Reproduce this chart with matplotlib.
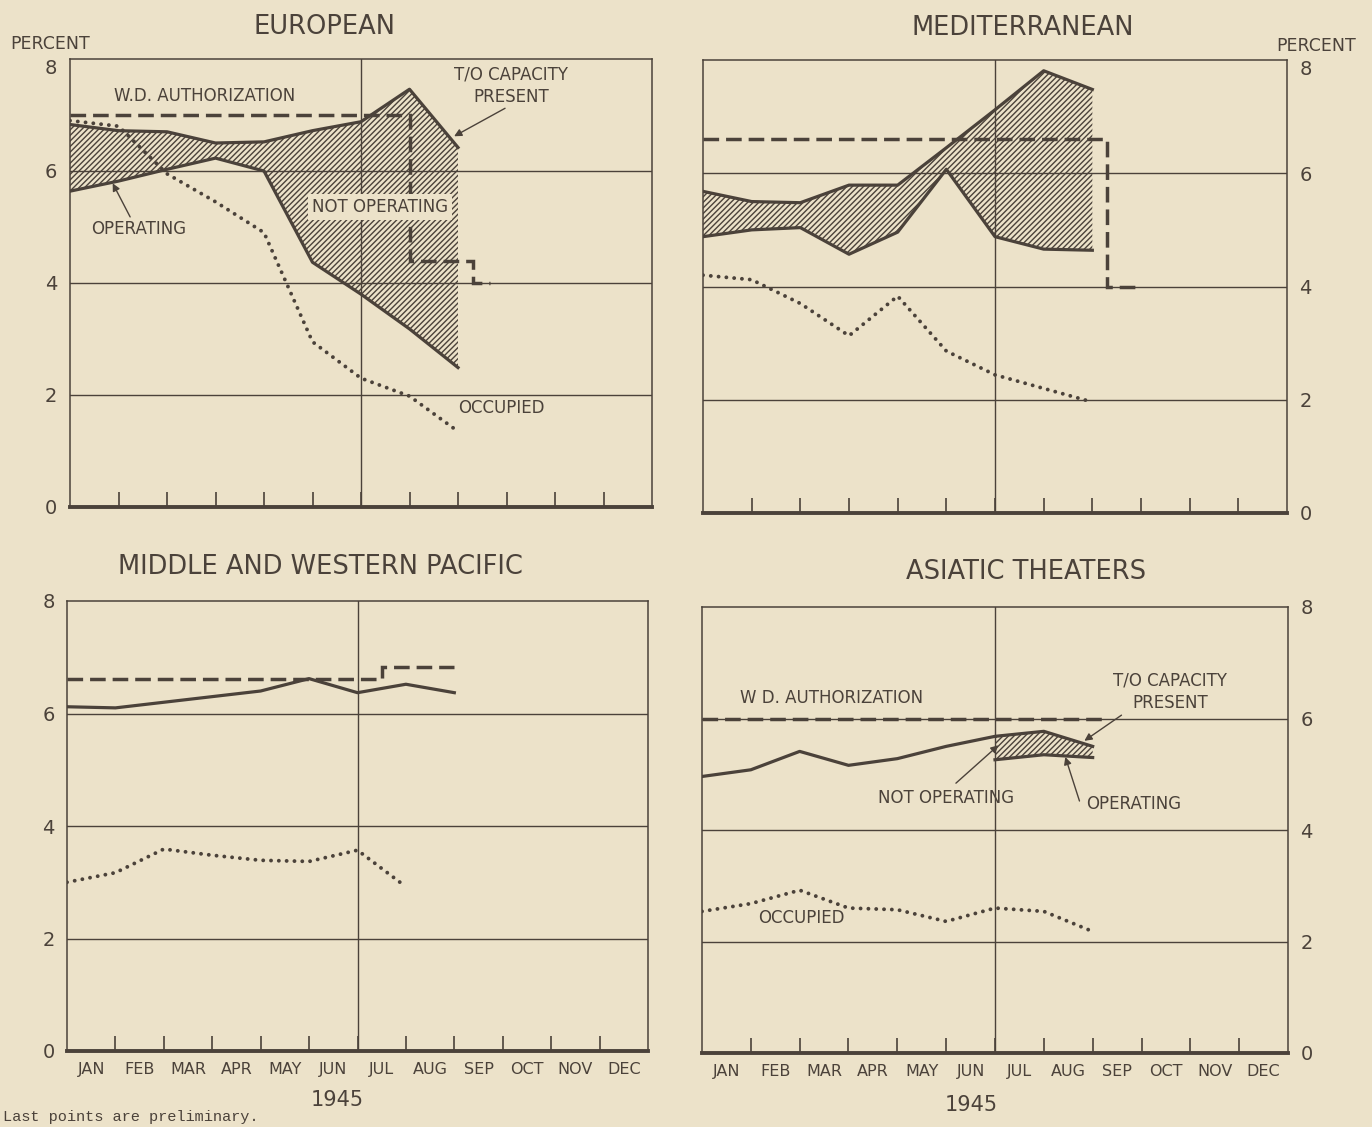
import matplotlib
matplotlib.use("Agg")
import matplotlib.pyplot as plt
import numpy as np

# ---------------------------------------------------------------- data
months = ["JAN", "FEB", "MAR", "APR", "MAY", "JUN",
          "JUL", "AUG", "SEP", "OCT", "NOV", "DEC"]
year_label = "1945"

# European theater (percent of strength)
eur_capacity = [6.83, 6.72, 6.70, 6.50, 6.52, 6.72, 6.88, 7.46, 6.42]
eur_operating = [5.64, 5.82, 6.03, 6.23, 6.00, 4.37, 3.80, 3.18, 2.49]
eur_occupied = [6.90, 6.80, 5.95, 5.45, 4.90, 2.95, 2.30, 1.98, 1.35]
eur_auth_edges = [0, 7.0, 8.3, 8.65]
eur_auth_levels = [7.0, 4.4, 4.0]

# Mediterranean theater
med_capacity = [5.68, 5.50, 5.48, 5.79, 5.79, 6.45, 7.12, 7.81, 7.48]
med_operating = [4.88, 5.00, 5.04, 4.57, 4.96, 6.07, 4.88, 4.66, 4.64]
med_occupied = [4.20, 4.12, 3.70, 3.13, 3.83, 2.86, 2.44, 2.20, 1.96]
med_auth_edges = [0, 8.3, 8.95]
med_auth_levels = [6.6, 4.0]

# Middle and Western Pacific
pac_capacity = [6.12, 6.10, 6.20, 6.30, 6.40, 6.62, 6.37, 6.52, 6.37]
pac_occupied = [3.00, 3.17, 3.59, 3.48, 3.39, 3.37, 3.57, 2.92]
pac_auth_edges = [0, 6.5, 8.0]
pac_auth_levels = [6.62, 6.82]

# Asiatic theaters
asi_capacity = [4.96, 5.08, 5.41, 5.16, 5.28, 5.50, 5.68, 5.77, 5.50]
asi_split_start = 6          # operating / not operating reported from July
asi_operating = [5.26, 5.35, 5.30]
asi_occupied = [2.54, 2.68, 2.92, 2.60, 2.57, 2.36, 2.60, 2.54, 2.18]
asi_auth_edges = [0, 8.3]
asi_auth_levels = [6.0]

y_ticks = [0, 2, 4, 6, 8]
footnote = "Last points are preliminary."

# ---------------------------------------------------------------- style
W, H = 1372, 1127
BG = "#ece2c9"
INK = "#4b423a"
FONT = "DejaVu Sans"

plt.rcParams["font.family"] = FONT
plt.rcParams["hatch.linewidth"] = 1.0
plt.rcParams["hatch.color"] = INK

fig = plt.figure(figsize=(W / 100, H / 100), dpi=100)
fig.patch.set_facecolor(BG)


def px_axes(left, top, right, bottom):
    return fig.add_axes([left / W, 1 - bottom / H, (right - left) / W, (bottom - top) / H])


def fig_text(x, y, s, **kw):
    kw.setdefault("color", INK)
    kw.setdefault("ha", "center")
    kw.setdefault("va", "center")
    fig.text(x / W, 1 - y / H, s, **kw)


def style_panel(ax, side, show_months, drop_top_label=False):
    ax.set_xlim(0, 12)
    ax.set_ylim(0, 8)
    ax.set_facecolor("none")
    for name, sp in ax.spines.items():
        sp.set_color(INK)
        sp.set_linewidth(1.1)
    ax.spines["bottom"].set_linewidth(2.8)
    ax.set_yticks(y_ticks)
    ax.set_yticklabels([str(v) for v in y_ticks])
    if side == "right":
        ax.yaxis.tick_right()
    ax.tick_params(axis="y", length=0, pad=9, labelsize=14, colors=INK)
    if drop_top_label:
        # top value label sits just under the frame, clear of "PERCENT"
        top_tick = ax.yaxis.get_major_ticks()[-1]
        top_tick.label1.set_verticalalignment("top")
        top_tick.label2.set_verticalalignment("top")
    for v in y_ticks[1:-1]:
        ax.axhline(v, color=INK, lw=1.0, zorder=1)
    ax.axvline(6, color=INK, lw=1.0, zorder=1)
    ax.set_xticks(np.arange(1, 12))
    ax.set_xticklabels([])
    ax.tick_params(axis="x", which="major", direction="in", length=11,
                   width=1.2, color=INK)
    ax.set_xticks(np.arange(12) + 0.5, minor=True)
    ax.set_xticklabels(months if show_months else [], minor=True)
    ax.tick_params(axis="x", which="minor", length=0, pad=8,
                   labelsize=11.5, labelcolor=INK)


def draw_capacity(ax, values):
    x = np.arange(len(values))
    ax.plot(x, values, color=INK, lw=2.3, solid_joinstyle="round", zorder=4)


def draw_band(ax, capacity, operating, start=0):
    x = np.arange(start, start + len(operating))
    top = capacity[start:start + len(operating)]
    ax.fill_between(x, top, operating, facecolor="none", edgecolor=INK,
                    hatch="//////", linewidth=0, zorder=3)
    ax.plot(x, operating, color=INK, lw=2.3, solid_joinstyle="round", zorder=4)


def draw_occupied(ax, values):
    x = np.arange(len(values))
    ax.plot(x, values, color=INK, lw=2.8, linestyle=(0, (0.01, 2.0)),
            dash_capstyle="round", zorder=5)


def draw_authorization(ax, edges, levels):
    ax.stairs(levels, edges, baseline=None, color=INK, lw=2.5,
              linestyle=(0, (4.5, 2.0)), zorder=5)


def pointer(ax, text_xy, target_xy):
    ax.annotate("", xy=target_xy, xytext=text_xy,
                arrowprops=dict(arrowstyle="-|>", color=INK, lw=1.0,
                                mutation_scale=11, shrinkA=0, shrinkB=0),
                zorder=6)


label_kw = dict(color=INK, fontsize=12, ha="center", va="center", zorder=7)

# ---------------------------------------------------------------- European
ax = px_axes(70, 59, 652, 507)
style_panel(ax, "left", False, drop_top_label=True)
draw_band(ax, eur_capacity, eur_operating)
draw_capacity(ax, eur_capacity)
draw_occupied(ax, eur_occupied)
draw_authorization(ax, eur_auth_edges, eur_auth_levels)
ax.text(2.78, 7.34, "W.D. AUTHORIZATION", **label_kw)
ax.text(9.1, 7.52, "T/O CAPACITY\nPRESENT", linespacing=1.3, **label_kw)
pointer(ax, (8.97, 7.12), (7.92, 6.62))
ax.text(1.42, 4.96, "OPERATING", **label_kw)
pointer(ax, (1.24, 5.18), (0.88, 5.78))
ax.text(6.39, 5.36, "NOT OPERATING",
        bbox=dict(boxstyle="square,pad=0.25", facecolor=BG, edgecolor="none"),
        **label_kw)
ax.text(8.89, 1.77, "OCCUPIED", **label_kw)

# ---------------------------------------------------------------- Mediterranean
ax = px_axes(703, 60, 1287, 513)
style_panel(ax, "right", False, drop_top_label=True)
draw_band(ax, med_capacity, med_operating)
draw_capacity(ax, med_capacity)
draw_occupied(ax, med_occupied)
draw_authorization(ax, med_auth_edges, med_auth_levels)

# ---------------------------------------------------------------- Middle and Western Pacific
ax = px_axes(67, 601, 648, 1051)
style_panel(ax, "left", True)
draw_capacity(ax, pac_capacity)
draw_occupied(ax, pac_occupied)
draw_authorization(ax, pac_auth_edges, pac_auth_levels)

# ---------------------------------------------------------------- Asiatic
ax = px_axes(702, 607, 1288, 1053)
style_panel(ax, "right", True)
draw_band(ax, asi_capacity, asi_operating, start=asi_split_start)
draw_capacity(ax, asi_capacity)
draw_occupied(ax, asi_occupied)
draw_authorization(ax, asi_auth_edges, asi_auth_levels)
ax.text(2.66, 6.37, "W D. AUTHORIZATION", **label_kw)
ax.text(9.59, 6.48, "T/O CAPACITY\nPRESENT", linespacing=1.3, **label_kw)
pointer(ax, (8.59, 6.06), (7.83, 5.60))
ax.text(5.0, 4.57, "NOT OPERATING", **label_kw)
pointer(ax, (5.2, 4.84), (6.07, 5.52))
ax.text(8.83, 4.46, "OPERATING", **label_kw)
pointer(ax, (7.73, 4.52), (7.44, 5.31))
ax.text(2.03, 2.43, "OCCUPIED", **label_kw)

# ---------------------------------------------------------------- titles and captions
title_kw = dict(fontsize=18.5)
fig_text(324, 27, "EUROPEAN", **title_kw)
fig_text(1023, 28, "MEDITERRANEAN", **title_kw)
fig_text(320, 567, "MIDDLE AND WESTERN PACIFIC", **title_kw)
fig_text(1026, 572, "ASIATIC THEATERS", **title_kw)
fig_text(50, 44, "PERCENT", fontsize=12.5)
fig_text(1316, 46, "PERCENT", fontsize=12.5)
fig_text(337, 1100, year_label, fontsize=15)
fig_text(971, 1105, year_label, fontsize=15)
fig_text(3, 1117, footnote, fontsize=11, ha="left", va="center",
         family="Liberation Mono")

fig.savefig("out.png", dpi=100, facecolor=BG)
